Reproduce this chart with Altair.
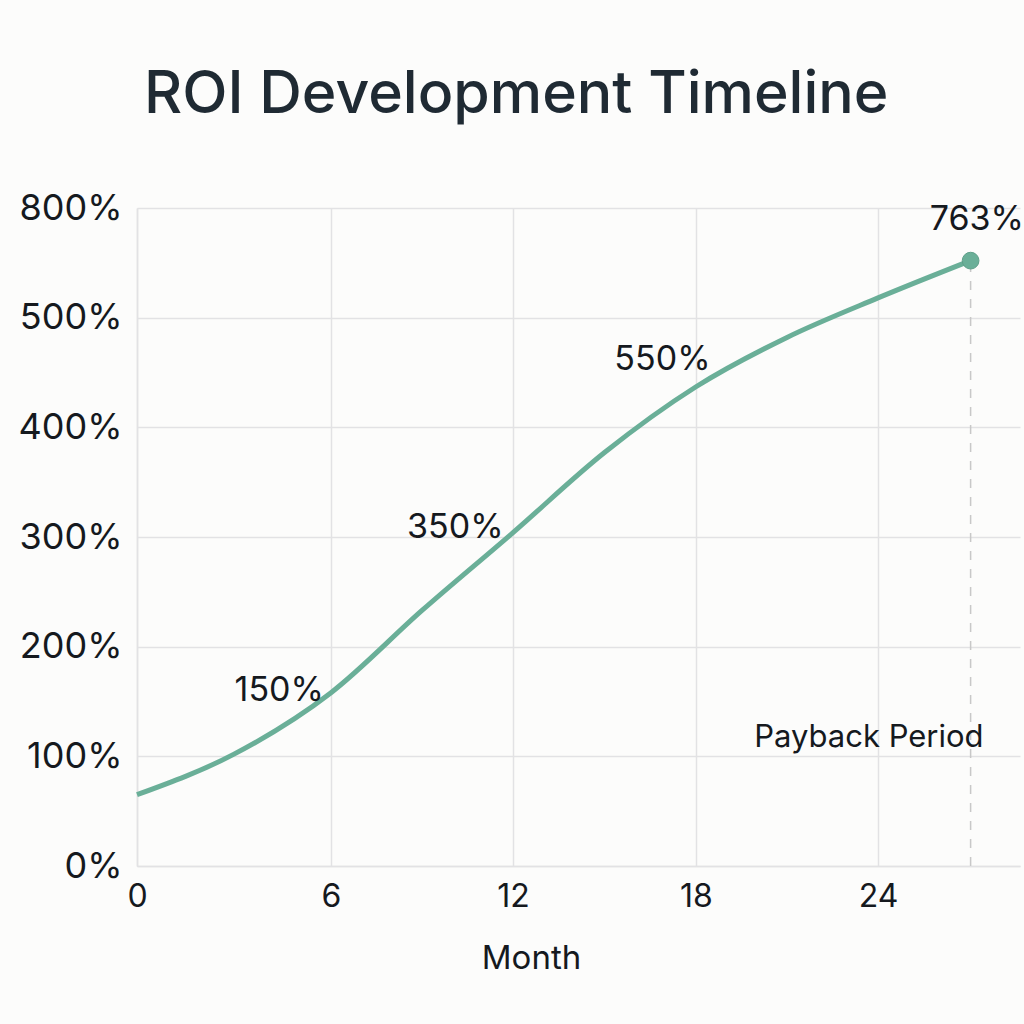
import altair as alt
import pandas as pd

# data
months = [0, 3, 6, 9, 12, 15, 18, 21, 24, 27]
roi = [65, 102, 158, 233, 304, 377, 437, 482, 518, 552]

y_ticks = [0, 100, 200, 300, 400, 500, 600]
x_ticks = [0, 6, 12, 18, 24]

ann_text = ["150%", "350%", "550%", "763%"]
ann_month = [4.4, 10.1, 16.9, 27.2]
ann_value = [160, 308, 461, 589]

payback_label = ["Payback Period"]
payback_month = [27]

FONT = "Inter"
LINE = "#6aaf98"
TXT = "#15191e"
GRID = "#e2e2e4"

df = pd.DataFrame({"month": months, "roi": roi})
ann = pd.DataFrame({"label": ann_text, "month": ann_month, "roi": ann_value})
end = df.tail(1)
pb = pd.DataFrame({"month": payback_month, "label": payback_label,
                   "y0": [0], "y1": [553], "tm": [23.7], "tv": [117]})

# reference's month axis is slightly uneven; piecewise-linear scale follows its ticks
xs = alt.Scale(domain=[0, 6, 12, 18, 24, 28.6], range=[0, 194, 376, 559, 741, 883],
               nice=False, zero=False)
ys = alt.Scale(domain=[0, 600], nice=False)

xaxis = alt.Axis(values=x_ticks, title="Month", labelFontSize=32, titleFontSize=33,
                 labelFont=FONT, titleFont=FONT, labelColor=TXT, titleColor=TXT,
                 titleFontWeight="normal", tickSize=0, labelPadding=15, titlePadding=30,
                 titleX=394, titleAnchor="middle",
                 gridColor=GRID, gridWidth=1.5, domainColor=GRID, domainWidth=1.5,
                 labelFlush=False)
yaxis = alt.Axis(values=y_ticks, title=None, labelFontSize=36, labelFont=FONT,
                 labelColor=TXT, tickSize=0, labelPadding=15,
                 labelExpr="datum.value == 600 ? '800%' : datum.value + '%'",
                 gridColor=GRID, gridWidth=1.5, domainColor=GRID, domainWidth=1.5)

line = alt.Chart(df).mark_line(color=LINE, strokeWidth=5, interpolate="monotone").encode(
    x=alt.X("month:Q", scale=xs, axis=xaxis),
    y=alt.Y("roi:Q", scale=ys, axis=yaxis),
)

rule = alt.Chart(pb).mark_rule(color="#c8c8c8", strokeWidth=1.5, strokeDash=[9, 9]).encode(
    x=alt.X("month:Q", scale=xs), y=alt.Y("y0:Q", scale=ys), y2="y1:Q")

pbtext = alt.Chart(pb).mark_text(font=FONT, fontSize=31, color=TXT).encode(
    x=alt.X("tm:Q", scale=xs), y=alt.Y("tv:Q", scale=ys), text="label:N")

pt = alt.Chart(end).mark_circle(size=280, color=LINE, opacity=1,
                                stroke="#5e9f89", strokeWidth=1).encode(
    x=alt.X("month:Q", scale=xs), y=alt.Y("roi:Q", scale=ys))

labels = alt.Chart(ann).mark_text(font=FONT, fontSize=34, color=TXT).encode(
    x=alt.X("month:Q", scale=xs), y=alt.Y("roi:Q", scale=ys), text="label:N")

chart = alt.layer(rule, line, pt, labels, pbtext).properties(
    width=883, height=658,
    autosize=alt.AutoSizeParams(type="none"),
    padding={"left": 137, "top": 208, "right": 4, "bottom": 158},
    background="#fcfcfb",
    title=alt.TitleParams("ROI Development Timeline", anchor="start", frame="group",
                          fontSize=59, font=FONT, fontWeight=500, color="#1f2a33",
                          offset=65, dx=7),
).configure_view(stroke=None)

chart.save("out.html", embed_options={"renderer": "svg", "actions": False})
